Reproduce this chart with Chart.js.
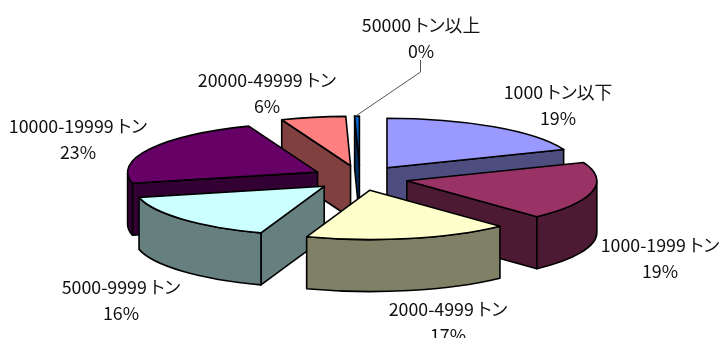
<!DOCTYPE html>
<html lang="ja">
<head>
<meta charset="utf-8">
<title>トン数別構成比</title>
<script src="https://cdn.jsdelivr.net/npm/chart.js@4"></script>
<style>
  html, body { margin: 0; padding: 0; background: #fff; }
  #wrap { position: relative; width: 720px; height: 338px; overflow: hidden; }
  .lbl {
    position: absolute;
    transform: translate(-50%, -50%);
    white-space: nowrap;
    color: #111;
    font: 17.8px "Noto Sans CJK JP", sans-serif;
    font-feature-settings: "palt" 1;
    line-height: 1;
  }
</style>
</head>
<body>
<div id="wrap"><canvas id="pie" width="720" height="338"></canvas></div>
<script>
// --------------------------------------
// Data
// --------------------------------------
const categories = ["1000 トン以下", "1000-1999 トン", "2000-4999 トン", "5000-9999 トン", "10000-19999 トン", "20000-49999 トン", "50000 トン以上"];
const shares = [19, 19, 17.4, 16, 22.7, 5.5, 0.4];
const percentLabels = ["19%", "19%", "17%", "16%", "23%", "6%", "0%"];
const topColors = ["#9999FF", "#993366", "#FFFFCC", "#CCFFFF", "#660066", "#FF8080", "#0066CC"];
const sideColors = ["#4D4D80", "#4D1A33", "#808066", "#668080", "#330033", "#804040", "#003366"];

// label centres, name line y then percent line y
const labelX = [558, 660, 448, 121, 78, 267, 421];
const labelY = [92, 245, 309, 287, 126, 80, 25];
const LINE_GAP = 26;

// --------------------------------------
// 3D look
// --------------------------------------
const RADIUS = 190;
const SQUASH = 0.26;
const DEPTH = 52;
const EXPLODE = 48;
const drawOrder = [6, 5, 0, 4, 1, 3, 2];

function wedgeGeometry(arc) {
    const mid = (arc.startAngle + arc.endAngle) / 2;
    const off = arc.options.offset;
    const ax = arc.x + Math.cos(mid) * off;
    const ay = arc.y + Math.sin(mid) * off * SQUASH;
    const rx = arc.outerRadius, ry = rx * SQUASH;
    const at = a => ({ x: ax + Math.cos(a) * rx, y: ay + Math.sin(a) * ry });
    return { ax, ay, rx, ry, s: at(arc.startAngle), e: at(arc.endAngle) };
}

function radialWall(ctx, g, p) {
    ctx.beginPath();
    ctx.moveTo(g.ax, g.ay);
    ctx.lineTo(p.x, p.y);
    ctx.lineTo(p.x, p.y + DEPTH);
    ctx.lineTo(g.ax, g.ay + DEPTH);
    ctx.closePath();
    ctx.fill();
    ctx.stroke();
}

function drawWedge(ctx, arc, side) {
    const g = wedgeGeometry(arc);
    ctx.fillStyle = side;
    ctx.strokeStyle = "#000";
    ctx.lineWidth = 1.6;
    ctx.lineJoin = "round";

    // only walls facing the viewer
    if (g.s.x < g.ax) radialWall(ctx, g, g.s);
    if (g.e.x > g.ax) radialWall(ctx, g, g.e);

    const a0 = Math.max(arc.startAngle, 0), a1 = Math.min(arc.endAngle, Math.PI);
    if (a1 > a0) {
        ctx.beginPath();
        ctx.ellipse(g.ax, g.ay, g.rx, g.ry, 0, a0, a1);
        ctx.ellipse(g.ax, g.ay + DEPTH, g.rx, g.ry, 0, a1, a0, true);
        ctx.closePath();
        ctx.fill();
        ctx.stroke();
    }

    ctx.fillStyle = arc.options.backgroundColor;
    ctx.beginPath();
    ctx.moveTo(g.ax, g.ay);
    ctx.ellipse(g.ax, g.ay, g.rx, g.ry, 0, arc.startAngle, arc.endAngle);
    ctx.closePath();
    ctx.fill();
    ctx.stroke();
}

const pie3d = {
    id: "pie3d",
    beforeDatasetDraw(chart, args) {
        const ctx = chart.ctx;
        const arcs = args.meta.data;
        ctx.save();
        drawOrder.forEach(i => drawWedge(ctx, arcs[i], sideColors[i]));

        // leader line of the smallest slice
        const g = wedgeGeometry(arcs[6]);
        ctx.strokeStyle = "#555";
        ctx.lineWidth = 1;
        ctx.beginPath();
        ctx.moveTo(420.5, 60);
        ctx.lineTo(420.5, 72);
        ctx.lineTo(g.s.x + 1, g.s.y);
        ctx.stroke();
        ctx.restore();
        return false;
    }
};

// --------------------------------------
// Chart
// --------------------------------------
new Chart(document.getElementById("pie"), {
    type: "pie",
    data: {
        labels: categories,
        datasets: [{ data: shares, backgroundColor: topColors, offset: EXPLODE, borderWidth: 0 }]
    },
    options: {
        responsive: false,
        animation: false,
        radius: RADIUS,
        layout: { padding: { top: 18 } },
        plugins: { legend: { display: false }, tooltip: { enabled: false } }
    },
    plugins: [pie3d]
});

// --------------------------------------
// Labels
// --------------------------------------
const wrap = document.getElementById("wrap");
function addLabel(text, x, y) {
    const d = document.createElement("div");
    d.className = "lbl";
    d.textContent = text;
    d.style.left = x + "px";
    d.style.top = y + "px";
    wrap.appendChild(d);
}
categories.forEach((name, i) => {
    addLabel(name, labelX[i], labelY[i]);
    addLabel(percentLabels[i], labelX[i], labelY[i] + LINE_GAP);
});
</script>
</body>
</html>
